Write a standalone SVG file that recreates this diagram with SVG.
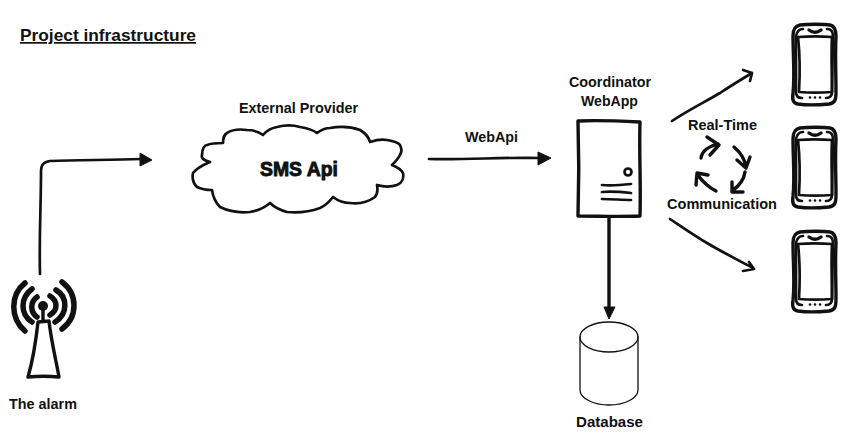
<svg xmlns="http://www.w3.org/2000/svg" xmlns:xlink="http://www.w3.org/1999/xlink" width="866" height="445" viewBox="0 0 866 445">
<style>
text{font-family:"Liberation Sans",Arial,sans-serif;font-weight:700;fill:#111;font-size:15px}
.title{font-size:17px;text-decoration:underline}
.big{font-size:21px;stroke:#111;stroke-width:1px}
.ln{fill:none;stroke:#111;stroke-linecap:round;stroke-linejoin:round}
.w1{stroke-width:1.300}
.w2{stroke-width:2.700}
.w3{stroke-width:3.400}
.w5{stroke-width:5.500}
.head{fill:#111;stroke:#111;stroke-width:1;stroke-linejoin:round}
</style>
<defs>
<g id="phone">
<path class="ln w3" d="M800 25C808 24 824 24 830 25C835 26 836 30 836 36C835 55 836 75 836 92C836 100 835 103 829 104C818 105 805 105 798 104C793 103 792 100 793 93C795 75 793 55 793 36C793 29 795 26 800 25Z"/>
<path class="ln w2" d="M796 36C797 31 799 29 803 29M796 36L796 92C796 96 798 98 802 98M833 36C833 31 831 29 827 29M833 36L832 92C832 96 830 98 826 98"/>
<path class="ln w2" d="M798 37C810 36 820 36 832 37C831 55 832 75 832 92C820 93 810 93 799 92C800 75 800 55 798 37Z"/>
<path class="ln w3" d="M809 30C813 33 817 33 821 30"/>
<circle cx="810" cy="97.500" r="1.300" fill="#111"/><circle cx="815" cy="97.500" r="1.300" fill="#111"/><circle cx="820" cy="97.500" r="1.300" fill="#111"/>
</g>
</defs>
<rect width="866" height="445" fill="#fff"/>
<text class="title" x="20" y="41" textLength="176" lengthAdjust="spacingAndGlyphs">Project infrastructure</text>
<g id="connectors">
<path class="ln w2" d="M40 274C39 240 41 205 41 172C41 164 44 162 50 161C80 160 110 160 141 159"/>
<polygon class="head" points="140,153 152,160 140,166"/>
<path class="ln w2" d="M429 159C465 160 505 157 540 158"/>
<polygon class="head" points="538,152 551,158 538,165"/>
<path class="ln w3" d="M609 217L609 308"/>
<polygon class="head" points="604,307 615,307 609,319"/>
<path class="ln w2" d="M672 121C690 109 705 102 720 93C732 85 742 79 752 73M743 70L752 73L750 81"/>
<path class="ln w2" d="M670 219C682 227 695 236 707 243C722 252 738 260 753 268M749 262L754 269L743 271"/>
<path class="ln w3" d="M701 158C702 151 709 146 718 144M707 137L719 145L710 155"/>
<path class="ln w3" d="M734 147C741 153 745 160 746 167M737 160L746 168L750 157"/>
<path class="ln w3" d="M745 172C744 180 739 186 732 191M732 182L732 192L743 192"/>
<path class="ln w3" d="M716 191C708 187 702 181 697 174M696 185L697 173L708 175"/>
</g>
<g id="alarm">
<path class="ln w5" d="M25 283C10 295 10 318 25 331M32 289C20 298 20 314 32 322M37 297C30 302 30 312 37 317"/>
<path class="ln w5" d="M62 282C78 294 78 317 62 329M56 290C68 297 68 314 55 322M50 296C58 301 58 310 50 315"/>
<circle cx="43" cy="306" r="5" fill="#111"/>
<path class="ln w3" d="M43 308L43 321M38 322L49 321C51 340 56 360 59 377C49 376 38 376 28 377C33 360 36 340 38 322Z"/>
<text x="9" y="409" textLength="68" lengthAdjust="spacingAndGlyphs">The alarm</text>
</g>
<g id="sms-api">
<path class="ln w2" d="M210 162C203 160 201 158 202 155C202 148 205 145 207 145C212 143 218 143 223 143C223 138 225 134 227 133C233 129 240 129 247 130C253 130 259 132 263 135C267 130 272 128 277 127C285 125 293 125 300 127C307 128 313 130 317 133C321 130 325 128 330 128C341 126 352 127 360 130C365 133 369 138 370 142C376 140 381 139 387 140C393 141 398 142 400 145C402 149 402 152 400 155C398 159 395 162 392 165C397 167 401 169 403 173C404 178 402 183 397 185C391 187 384 187 377 185C378 191 377 195 375 197C368 202 358 204 350 203C343 203 337 200 333 197C329 202 325 206 320 208C309 212 297 213 287 212C280 210 274 207 270 203C264 208 257 211 250 212C239 213 228 211 220 207C216 203 213 197 212 190C206 190 201 189 197 187C193 183 192 178 193 173C196 169 203 165 210 162Z"/>
<text class="big" x="260" y="176" textLength="78" lengthAdjust="spacingAndGlyphs">SMS Api</text>
<text x="239" y="113" textLength="119" lengthAdjust="spacingAndGlyphs">External Provider</text>
</g>
<text x="465" y="142" textLength="53" lengthAdjust="spacingAndGlyphs">WebApi</text>
<g id="coordinator">
<text x="569" y="87" textLength="82" lengthAdjust="spacingAndGlyphs">Coordinator</text>
<text x="581" y="106" textLength="57" lengthAdjust="spacingAndGlyphs">WebApp</text>
<path class="ln w3" d="M578 121C598 120 620 121 640 122C639 152 641 185 640 216C620 217 598 216 578 216C579 185 579 152 578 121Z"/>
<circle cx="628" cy="172" r="3.500" fill="none" stroke="#111" stroke-width="2.700"/>
<path class="ln w2" d="M602 185C612 186 622 185 631 184M602 192C612 191 622 192 631 193M602 199C612 199 622 200 631 200"/>
</g>
<g id="database">
<ellipse class="ln w1" cx="609" cy="337" rx="29" ry="15"/>
<path class="ln w1" d="M580 337L580 390C580 398 593 405 609 405C625 405 638 398 638 390L638 337"/>
<text x="576" y="427" textLength="67" lengthAdjust="spacingAndGlyphs">Database</text>
</g>
<g id="realtime">
<text x="688" y="130" textLength="69" lengthAdjust="spacingAndGlyphs">Real-Time</text>
<text x="667" y="209" textLength="110" lengthAdjust="spacingAndGlyphs">Communication</text>
</g>
<g id="phone-1"><use href="#phone"/></g>
<g id="phone-2"><use href="#phone" y="103"/></g>
<g id="phone-3"><use href="#phone" y="207"/></g>
</svg>
